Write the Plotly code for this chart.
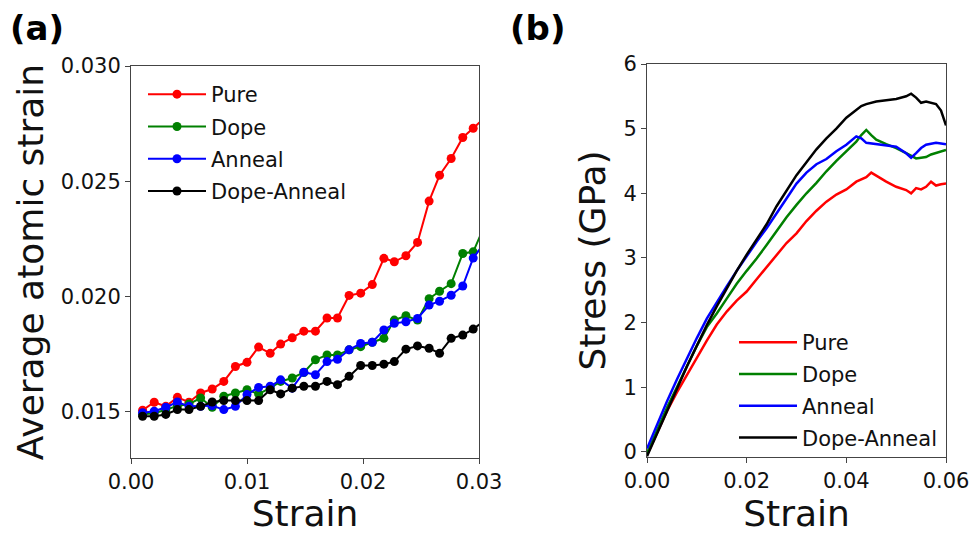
import plotly.graph_objects as go

# ---------------- Panel (a) data ----------------
strain_a = [0.0010, 0.0020, 0.0030, 0.0040, 0.0050, 0.0060, 0.0070, 0.0080, 0.0090, 0.0100,
            0.0110, 0.0120, 0.0129, 0.0139, 0.0149, 0.0159, 0.0169, 0.0178, 0.0188, 0.0198,
            0.0208, 0.0218, 0.0227, 0.0237, 0.0247, 0.0257, 0.0266, 0.0276, 0.0286, 0.0295,
            0.0305]
pure_a = [0.01507, 0.01542, 0.01524, 0.01563, 0.01542, 0.01582, 0.01599, 0.01632, 0.01697, 0.01715,
          0.01781, 0.01754, 0.01794, 0.01821, 0.01850, 0.01850, 0.01907, 0.01907, 0.02005, 0.02015,
          0.02052, 0.02166, 0.02151, 0.02177, 0.02235, 0.02414, 0.02526, 0.02599, 0.02690, 0.02730,
          0.02776]
dope_a = [0.01490, 0.01494, 0.01509, 0.01526, 0.01534, 0.01560, 0.01520, 0.01568, 0.01582, 0.01596,
          0.01578, 0.01603, 0.01632, 0.01647, 0.01671, 0.01726, 0.01747, 0.01747, 0.01769, 0.01783,
          0.01802, 0.01819, 0.01898, 0.01917, 0.01898, 0.01991, 0.02023, 0.02056, 0.02187, 0.02194,
          0.02310]
anneal_a = [0.01496, 0.01503, 0.01520, 0.01543, 0.01524, 0.01524, 0.01527, 0.01510, 0.01524, 0.01575,
            0.01606, 0.01611, 0.01639, 0.01603, 0.01672, 0.01661, 0.01718, 0.01728, 0.01769, 0.01797,
            0.01802, 0.01855, 0.01884, 0.01891, 0.01905, 0.01963, 0.01980, 0.02006, 0.02046, 0.02167,
            0.02235]
dope_anneal_a = [0.01481, 0.01481, 0.01489, 0.01510, 0.01510, 0.01524, 0.01543, 0.01549, 0.01549, 0.01549,
                 0.01549, 0.01596, 0.01578, 0.01603, 0.01611, 0.01611, 0.01632, 0.01618, 0.01654, 0.01701,
                 0.01701, 0.01707, 0.01718, 0.01772, 0.01786, 0.01776, 0.01754, 0.01819, 0.01833, 0.01859,
                 0.01896]

# ---------------- Panel (b) data ----------------
strain_b = [0.000, 0.002, 0.004, 0.006, 0.008, 0.010, 0.012, 0.014, 0.016, 0.018,
            0.020, 0.022, 0.024, 0.026, 0.028, 0.030, 0.032, 0.034, 0.036, 0.038,
            0.040, 0.042, 0.043, 0.044, 0.045, 0.046, 0.048, 0.050, 0.052, 0.053,
            0.054, 0.055, 0.056, 0.057, 0.058, 0.059, 0.060]
pure_b = [-0.05, 0.30, 0.63, 0.92, 1.19, 1.45, 1.72, 1.97, 2.17, 2.34,
          2.48, 2.67, 2.86, 3.05, 3.23, 3.38, 3.57, 3.73, 3.87, 3.98,
          4.06, 4.18, 4.22, 4.25, 4.32, 4.27, 4.18, 4.10, 4.05, 4.00,
          4.08, 4.06, 4.10, 4.18, 4.12, 4.14, 4.15]
dope_b = [-0.02, 0.33, 0.68, 1.00, 1.33, 1.64, 1.93, 2.14, 2.37, 2.60,
          2.80, 2.99, 3.20, 3.42, 3.63, 3.82, 4.00, 4.16, 4.34, 4.50,
          4.65, 4.80, 4.90, 4.98, 4.90, 4.83, 4.76, 4.70, 4.62, 4.58,
          4.54, 4.55, 4.56, 4.60, 4.62, 4.65, 4.67]
anneal_b = [0.05, 0.42, 0.78, 1.12, 1.45, 1.76, 2.06, 2.32, 2.56, 2.80,
            3.03, 3.25, 3.46, 3.68, 3.92, 4.15, 4.32, 4.45, 4.53, 4.65,
            4.75, 4.88, 4.85, 4.78, 4.77, 4.76, 4.73, 4.72, 4.62, 4.55,
            4.62, 4.70, 4.75, 4.77, 4.78, 4.77, 4.76]
dope_anneal_b = [-0.07, 0.28, 0.63, 0.98, 1.32, 1.64, 1.96, 2.25, 2.53, 2.80,
                 3.05, 3.28, 3.52, 3.80, 4.05, 4.28, 4.48, 4.68, 4.85, 5.00,
                 5.17, 5.30, 5.35, 5.38, 5.40, 5.42, 5.44, 5.46, 5.50, 5.54,
                 5.48, 5.40, 5.42, 5.40, 5.38, 5.28, 5.05]

names = ["Pure", "Dope", "Anneal", "Dope-Anneal"]
colors = ["#ff0000", "#008000", "#0000ff", "#000000"]

FONT = "DejaVu Sans"
W, H = 971, 534

fig = go.Figure()

for i, (nm, col, ys) in enumerate(zip(names, colors, [pure_a, dope_a, anneal_a, dope_anneal_a])):
    fig.add_trace(go.Scatter(x=strain_a, y=ys, mode="lines+markers", name=nm,
                             line=dict(color=col, width=2), marker=dict(color=col, size=9),
                             xaxis="x", yaxis="y", legend="legend", legendgroup="a%d" % i))

for i, (nm, col, ys) in enumerate(zip(names, colors, [pure_b, dope_b, anneal_b, dope_anneal_b])):
    fig.add_trace(go.Scatter(x=strain_b, y=ys, mode="lines", name=nm,
                             line=dict(color=col, width=2.5),
                             xaxis="x2", yaxis="y2", legend="legend2", legendgroup="b%d" % i))

axis_common = dict(showline=True, mirror=True, linecolor="#444", linewidth=1,
                   ticks="outside", ticklen=5, tickwidth=1, tickcolor="#444",
                   showgrid=False, zeroline=False, automargin=False,
                   tickfont=dict(family=FONT, size=21, color="#111"))

fig.update_layout(
    width=W, height=H,
    margin=dict(l=0, r=0, t=0, b=0),
    paper_bgcolor="white", plot_bgcolor="white",
    font=dict(family=FONT, color="#111"),
    xaxis=dict(domain=[131 / W, 479 / W], range=[0, 0.03], dtick=0.01, tickformat=".2f",
               title=dict(text="Strain", font=dict(family=FONT, size=36), standoff=4),
               anchor="y", **axis_common),
    yaxis=dict(domain=[1 - 458 / H, 1 - 66 / H], range=[0.013, 0.030], tick0=0.015, dtick=0.005,
               tickformat=".3f",
               title=dict(text="Average atomic strain", font=dict(family=FONT, size=36), standoff=6),
               anchor="x", **axis_common),
    xaxis2=dict(domain=[647 / W, 946 / W], range=[0, 0.06], dtick=0.02, tickformat=".2f",
                title=dict(text="Strain", font=dict(family=FONT, size=36), standoff=4),
                anchor="y2", **axis_common),
    yaxis2=dict(domain=[1 - 457 / H, 1 - 64 / H], range=[-0.08, 6], tick0=0, dtick=1,
                title=dict(text="Stress (GPa)", font=dict(family=FONT, size=36), standoff=6),
                anchor="x2", **axis_common),
    legend=dict(x=143 / W, y=1 - 74 / H, xanchor="left", yanchor="top",
                bgcolor="rgba(0,0,0,0)", borderwidth=0, tracegroupgap=2,
                font=dict(family=FONT, size=21, color="#111"), itemwidth=58),
    legend2=dict(x=734 / W, y=1 - 322 / H, xanchor="left", yanchor="top",
                 bgcolor="rgba(0,0,0,0)", borderwidth=0, tracegroupgap=1.5,
                 font=dict(family=FONT, size=21, color="#111"), itemwidth=58),
    showlegend=True,
    annotations=[
        dict(text="<b>(a)</b>", x=8 / W, y=1 - 6 / H, xref="paper", yref="paper",
             xanchor="left", yanchor="top", showarrow=False,
             font=dict(family=FONT, size=34, color="#000")),
        dict(text="<b>(b)</b>", x=508 / W, y=1 - 6 / H, xref="paper", yref="paper",
             xanchor="left", yanchor="top", showarrow=False,
             font=dict(family=FONT, size=34, color="#000")),
    ],
)

fig.write_html("out.html")
